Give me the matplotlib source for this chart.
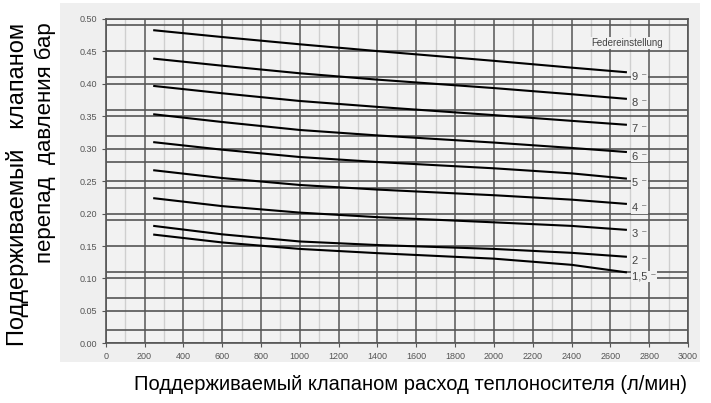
import numpy as np
import matplotlib.pyplot as plt
from matplotlib.patches import Rectangle

plt.rcParams['font.family'] = ['Liberation Sans', 'DejaVu Sans']

# расход (л/мин) по кривым
flow = [250, 600, 1000, 1400, 2000, 2400, 2680]
# перепад давления (бар) для каждой настройки пружины
curves = {
    '9':   [0.4826, 0.4722, 0.4610, 0.4505, 0.4355, 0.4250, 0.4180],
    '8':   [0.4388, 0.4280, 0.4163, 0.4065, 0.3935, 0.3840, 0.3770],
    '7':   [0.3967, 0.3855, 0.3736, 0.3645, 0.3518, 0.3430, 0.3370],
    '6':   [0.3530, 0.3412, 0.3289, 0.3205, 0.3095, 0.3012, 0.2950],
    '5':   [0.3100, 0.2985, 0.2872, 0.2795, 0.2698, 0.2620, 0.2540],
    '4':   [0.2667, 0.2548, 0.2441, 0.2370, 0.2283, 0.2215, 0.2150],
    '3':   [0.2236, 0.2115, 0.2015, 0.1945, 0.1865, 0.1810, 0.1750],
    '2':   [0.1809, 0.1680, 0.1570, 0.1515, 0.1455, 0.1395, 0.1335],
    '1,5': [0.1675, 0.1555, 0.1455, 0.1390, 0.1305, 0.1210, 0.1095],
}
hlines = [0.0, 0.02, 0.05, 0.07, 0.10, 0.11, 0.15, 0.19, 0.20, 0.24, 0.25,
          0.28, 0.30, 0.32, 0.35, 0.36, 0.40, 0.41, 0.45, 0.49, 0.50]
xticks = np.arange(0, 3001, 200)
yticks = np.arange(0, 0.501, 0.05)

fig = plt.figure(figsize=(7.11, 4.03), dpi=100)
fig.patch.set_facecolor('white')
fig.patches.append(Rectangle((60/711, 1-362/403), 640/711, 359/403,
                             transform=fig.transFigure, facecolor='#efefef',
                             edgecolor='none', zorder=-10))

ax = fig.add_axes([105.7/711, 1-343.3/403, 582.3/711, 324.3/403])
ax.set_facecolor('#f2f2f2')
ax.set_xlim(0, 3000)
ax.set_ylim(0, 0.5)

# сетка
for x in range(100, 3000, 200):
    ax.axvline(x, color='#cfcfcf', lw=1.0, zorder=1)
for x in xticks:
    ax.axvline(x, color='#6e6e6e', lw=1.3, zorder=2)
for y in hlines:
    ax.axhline(y, color='#555555', lw=1.2, zorder=2)

for lab, vals in curves.items():
    ax.plot(flow, vals, color='black', lw=1.5, zorder=3)
    ax.text(flow[-1] + 30, vals[-1] - 0.007, lab + ' \u207b', fontsize=8,
            color='#444444', va='center', ha='left', zorder=4,
            bbox=dict(facecolor='#f2f2f2', edgecolor='none', pad=0.5))

ax.text(2500, 0.463, 'Federeinstellung', fontsize=7, color='#444444',
        va='center', ha='left', zorder=4,
        bbox=dict(facecolor='#f2f2f2', edgecolor='none', pad=0.8))

ax.set_xticks(xticks)
ax.set_yticks(yticks)
ax.set_yticklabels(['%.2f' % v for v in yticks])
ax.tick_params(labelsize=6.5, colors='#555555', length=3, direction='out')
for s in ax.spines.values():
    s.set_color('#555555')
    s.set_linewidth(1.2)

fig.text(18/711, 1-184/403, 'Поддерживаемый   клапаном',
         rotation=90, ha='center', va='center', fontsize=17, color='black')
fig.text(45/711, 1-143/403, 'перепад  давления бар',
         rotation=90, ha='center', va='center', fontsize=16, color='black')
fig.text(410/711, 1-385/403,
         'Поддерживаемый клапаном расход теплоносителя (л/мин)',
         ha='center', va='center', fontsize=14.5, color='black')

fig.savefig('out.png', dpi=100)
